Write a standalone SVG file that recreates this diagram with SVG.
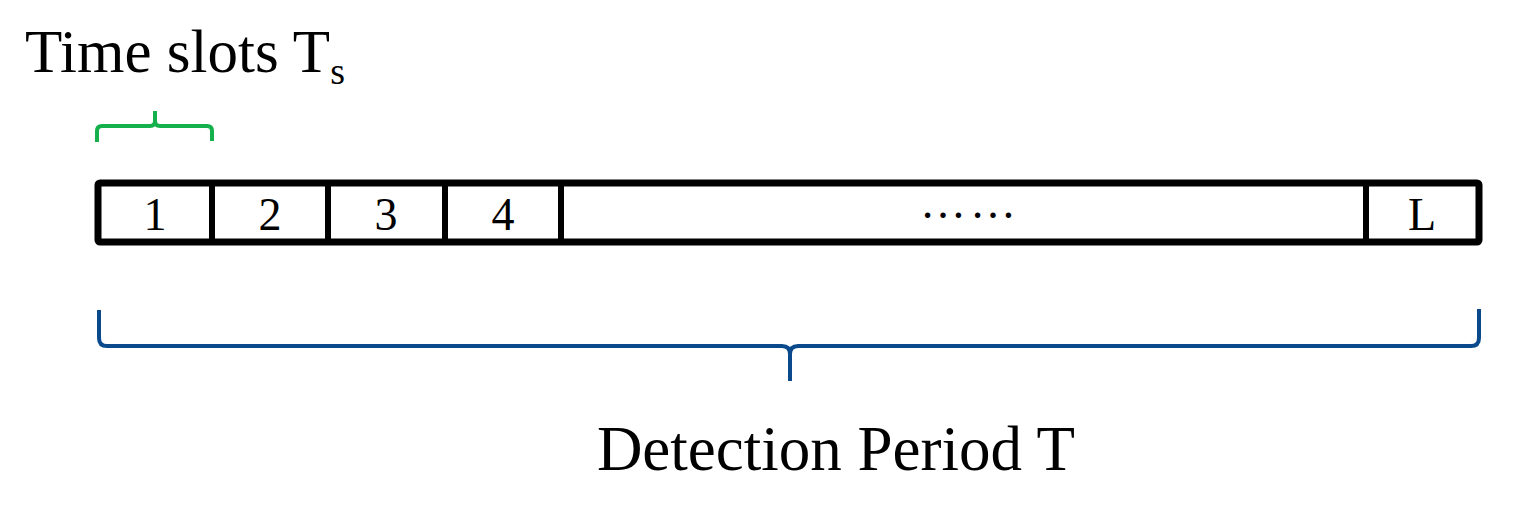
<svg xmlns="http://www.w3.org/2000/svg" width="1516" height="511" viewBox="0 0 1516 511">
<style>
text{font-family:"Liberation Serif",serif;fill:#000}
.n{font-size:46px;text-anchor:middle}
.cell{fill:#fff;stroke:#000;stroke-width:7}
.div{stroke:#000;stroke-width:6}
</style>
<rect width="1516" height="511" fill="#fff"/>
<text x="25" y="72" font-size="61">Time slots T<tspan font-size="38" dy="12">s</tspan></text>
<g id="slots">
<rect class="cell" x="98" y="183" width="1381" height="59" rx="2"/>
<line class="div" x1="212" y1="183" x2="212" y2="242"/>
<line class="div" x1="328" y1="183" x2="328" y2="242"/>
<line class="div" x1="445" y1="183" x2="445" y2="242"/>
<line class="div" x1="561" y1="183" x2="561" y2="242"/>
<line class="div" x1="1366" y1="183" x2="1366" y2="242"/>
<text class="n" x="155" y="230">1</text>
<text class="n" x="270" y="230">2</text>
<text class="n" x="386" y="230">3</text>
<text class="n" x="503" y="230">4</text>
<text class="n" x="970" y="218" letter-spacing="4">……</text>
<text class="n" x="1422" y="230">L</text>
</g>
<g id="connectors" fill="none" stroke-linejoin="round">
<path d="M97 142 V131 Q97 126 102 126 H150 Q155 126 155 121 V111 M155 121 Q155 126 160 126 H207 Q212 126 212 131 V141" stroke="#13b04b" stroke-width="4"/>
<path d="M99 310 V338 Q99 346 107 346 H782 Q790 346 790 354 V381 M790 354 Q790 346 798 346 H1471 Q1479 346 1479 338 V309" stroke="#0a4a8c" stroke-width="4"/>
</g>
<text x="836" y="470" font-size="63" text-anchor="middle">Detection Period T</text>
</svg>
